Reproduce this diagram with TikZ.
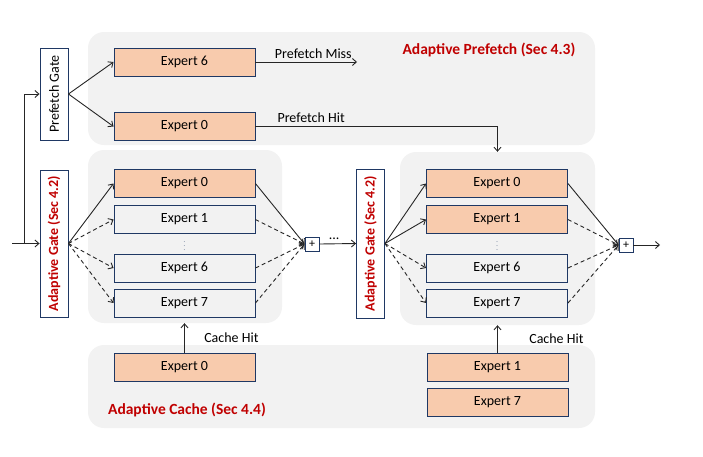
\documentclass[tikz,border=0pt]{standalone}
\usepackage{fontspec}
\setmainfont{Carlito}
\usepackage{xcolor}
\definecolor{mynavy}{RGB}{31,56,100}
\definecolor{mypeach}{RGB}{248,203,173}
\definecolor{mygray}{RGB}{242,242,242}
\definecolor{myred}{RGB}{192,0,0}
\usepackage{tikz}
\usetikzlibrary{arrows.meta, positioning, calc}

\begin{document}
\begin{tikzpicture}[
  x=1pt, y=-1pt,
  font=\fontsize{14}{16}\selectfont,
  panel/.style ={rectangle, rounded corners=16pt, fill=mygray, draw=none,
                 inner sep=0pt},
  expert/.style={rectangle, draw=mynavy, line width=0.9pt, fill=mygray,
                 minimum width=141pt, minimum height=28pt, inner sep=0pt},
  hotexpert/.style={expert, fill=mypeach},
  gate/.style  ={rectangle, draw=mynavy, line width=0.9pt, fill=white,
                 rotate=90, minimum height=28pt, inner sep=0pt},
  redgate/.style={gate, font=\fontsize{14}{16}\selectfont\bfseries,
                 text=myred},
  seclabel/.style={font=\fontsize{15.5}{18}\selectfont\bfseries, text=myred},
  sumbox/.style={rectangle, draw=mynavy, line width=0.9pt, fill=white,
                 minimum size=14pt, inner sep=0pt,
                 font=\fontsize{12}{12}\selectfont},
  conn/.style  ={-{Straight Barb[length=4pt,width=7pt]}, line width=0.9pt,
                 draw=black!85},
  maybe/.style ={conn, dash pattern=on 4pt off 3pt},
  vdots/.style ={font=\fontsize{6}{6}\selectfont, text=mynavy, inner sep=0pt},
]
\useasboundingbox (0,0) rectangle (703,456);

%% --- panneaux de fond ---
\node[panel, minimum width=507pt, minimum height=113pt] (pfpanel) at (341.5, 88.5) {};
\node[panel, minimum width=194pt, minimum height=173pt] (lpanel) at (185, 236.5) {};
\node[panel, minimum width=195pt, minimum height=173pt] (rpanel) at (497.5, 238.5) {};
\node[panel, minimum width=507pt, minimum height=83pt] (cpanel) at (341.5, 386.5) {};

\node[seclabel] (pflabel) at (489, 50) {Adaptive Prefetch (Sec 4.3)};
\node[seclabel] (clabel) at (187, 410) {Adaptive Cache (Sec 4.4)};

%% --- portes ---
\node[gate, minimum width=92pt] (pg) at (54, 94) {Prefetch Gate};
\node[redgate, minimum width=147pt] (ag1) at (54, 243.5) {Adaptive Gate (Sec 4.2)};
\node[redgate, minimum width=149pt] (ag2) at (370.5, 243.5) {Adaptive Gate (Sec 4.2)};

%% --- experts prefetch ---
\node[hotexpert] (pe6) at (184.5, 62) {Expert 6};
\node[hotexpert] (pe0) at (184.5, 126.5) {Expert 0};

%% --- experts couche 1 ---
\node[hotexpert] (le0) at (184.5, 183.5) {Expert 0};
\node[expert] (le1) at (184.5, 219.5) {Expert 1};
\node[vdots] (ldots) at (184.5, 243) {$\vdots$};
\node[expert] (le6) at (184.5, 268) {Expert 6};
\node[expert] (le7) at (184.5, 303) {Expert 7};

%% --- experts couche 2 ---
\node[hotexpert] (re0) at (497, 183.5) {Expert 0};
\node[hotexpert] (re1) at (497, 219.5) {Expert 1};
\node[vdots] (rdots) at (497, 243) {$\vdots$};
\node[expert] (re6) at (497, 268) {Expert 6};
\node[expert] (re7) at (497, 303) {Expert 7};

%% --- experts en cache ---
\node[hotexpert] (ce0) at (184.5, 367) {Expert 0};
\node[hotexpert] (ce1) at (497.5, 367) {Expert 1};
\node[hotexpert] (ce7) at (497.5, 402) {Expert 7};

%% --- sommes ---
\node[sumbox] (sum1) at (312, 244) {+};
\node[sumbox] (sum2) at (626, 245) {+};

\coordinate (in) at (12, 243.5);
\coordinate (split) at (24, 243.5);
\coordinate (miss) at (357, 62);
\coordinate (out) at (660, 245);

%% --- connexions ---
\draw[conn] (in) -- (ag1.north);
\draw[conn] (split) |- (pg.north);
\draw[conn] (pg.south) -- (pe6.west);
\draw[conn] (pg.south) -- (pe0.west);
\draw[conn] (pe6.east) -- node[above, pos=0.57] {Prefetch Miss} (miss);
\draw[conn] (pe0.east) -| node[above, pos=0.115] {Prefetch Hit} (rpanel.north);

\draw[conn]  (ag1.south) -- (le0.west);
\draw[maybe] (ag1.south) -- (le1.west);
\draw[maybe] (ag1.south) -- (le6.west);
\draw[maybe] (ag1.south) -- (le7.west);
\draw[conn]  (le0.east) -- (sum1.west);
\draw[maybe] (le1.east) -- (sum1.west);
\draw[maybe] (le6.east) -- (sum1.west);
\draw[maybe] (le7.east) -- (sum1.west);
\draw[conn] (sum1.east) -- node[above, pos=0.4] {...} (ag2.north);

\draw[conn]  (ag2.south) -- (re0.west);
\draw[conn]  (ag2.south) -- (re1.west);
\draw[maybe] (ag2.south) -- (re6.west);
\draw[maybe] (ag2.south) -- (re7.west);
\draw[conn]  (re0.east) -- (sum2.west);
\draw[maybe] (re1.east) -- (sum2.west);
\draw[maybe] (re6.east) -- (sum2.west);
\draw[maybe] (re7.east) -- (sum2.west);
\draw[conn] (sum2.east) -- (out);

\draw[conn] (ce0.north) -- node[right=16pt] {Cache Hit} (ce0.north |- lpanel.south);
\draw[conn] (ce1.north) -- node[right=28pt] {Cache Hit} (ce1.north |- rpanel.south);
\end{tikzpicture}
\end{document}
